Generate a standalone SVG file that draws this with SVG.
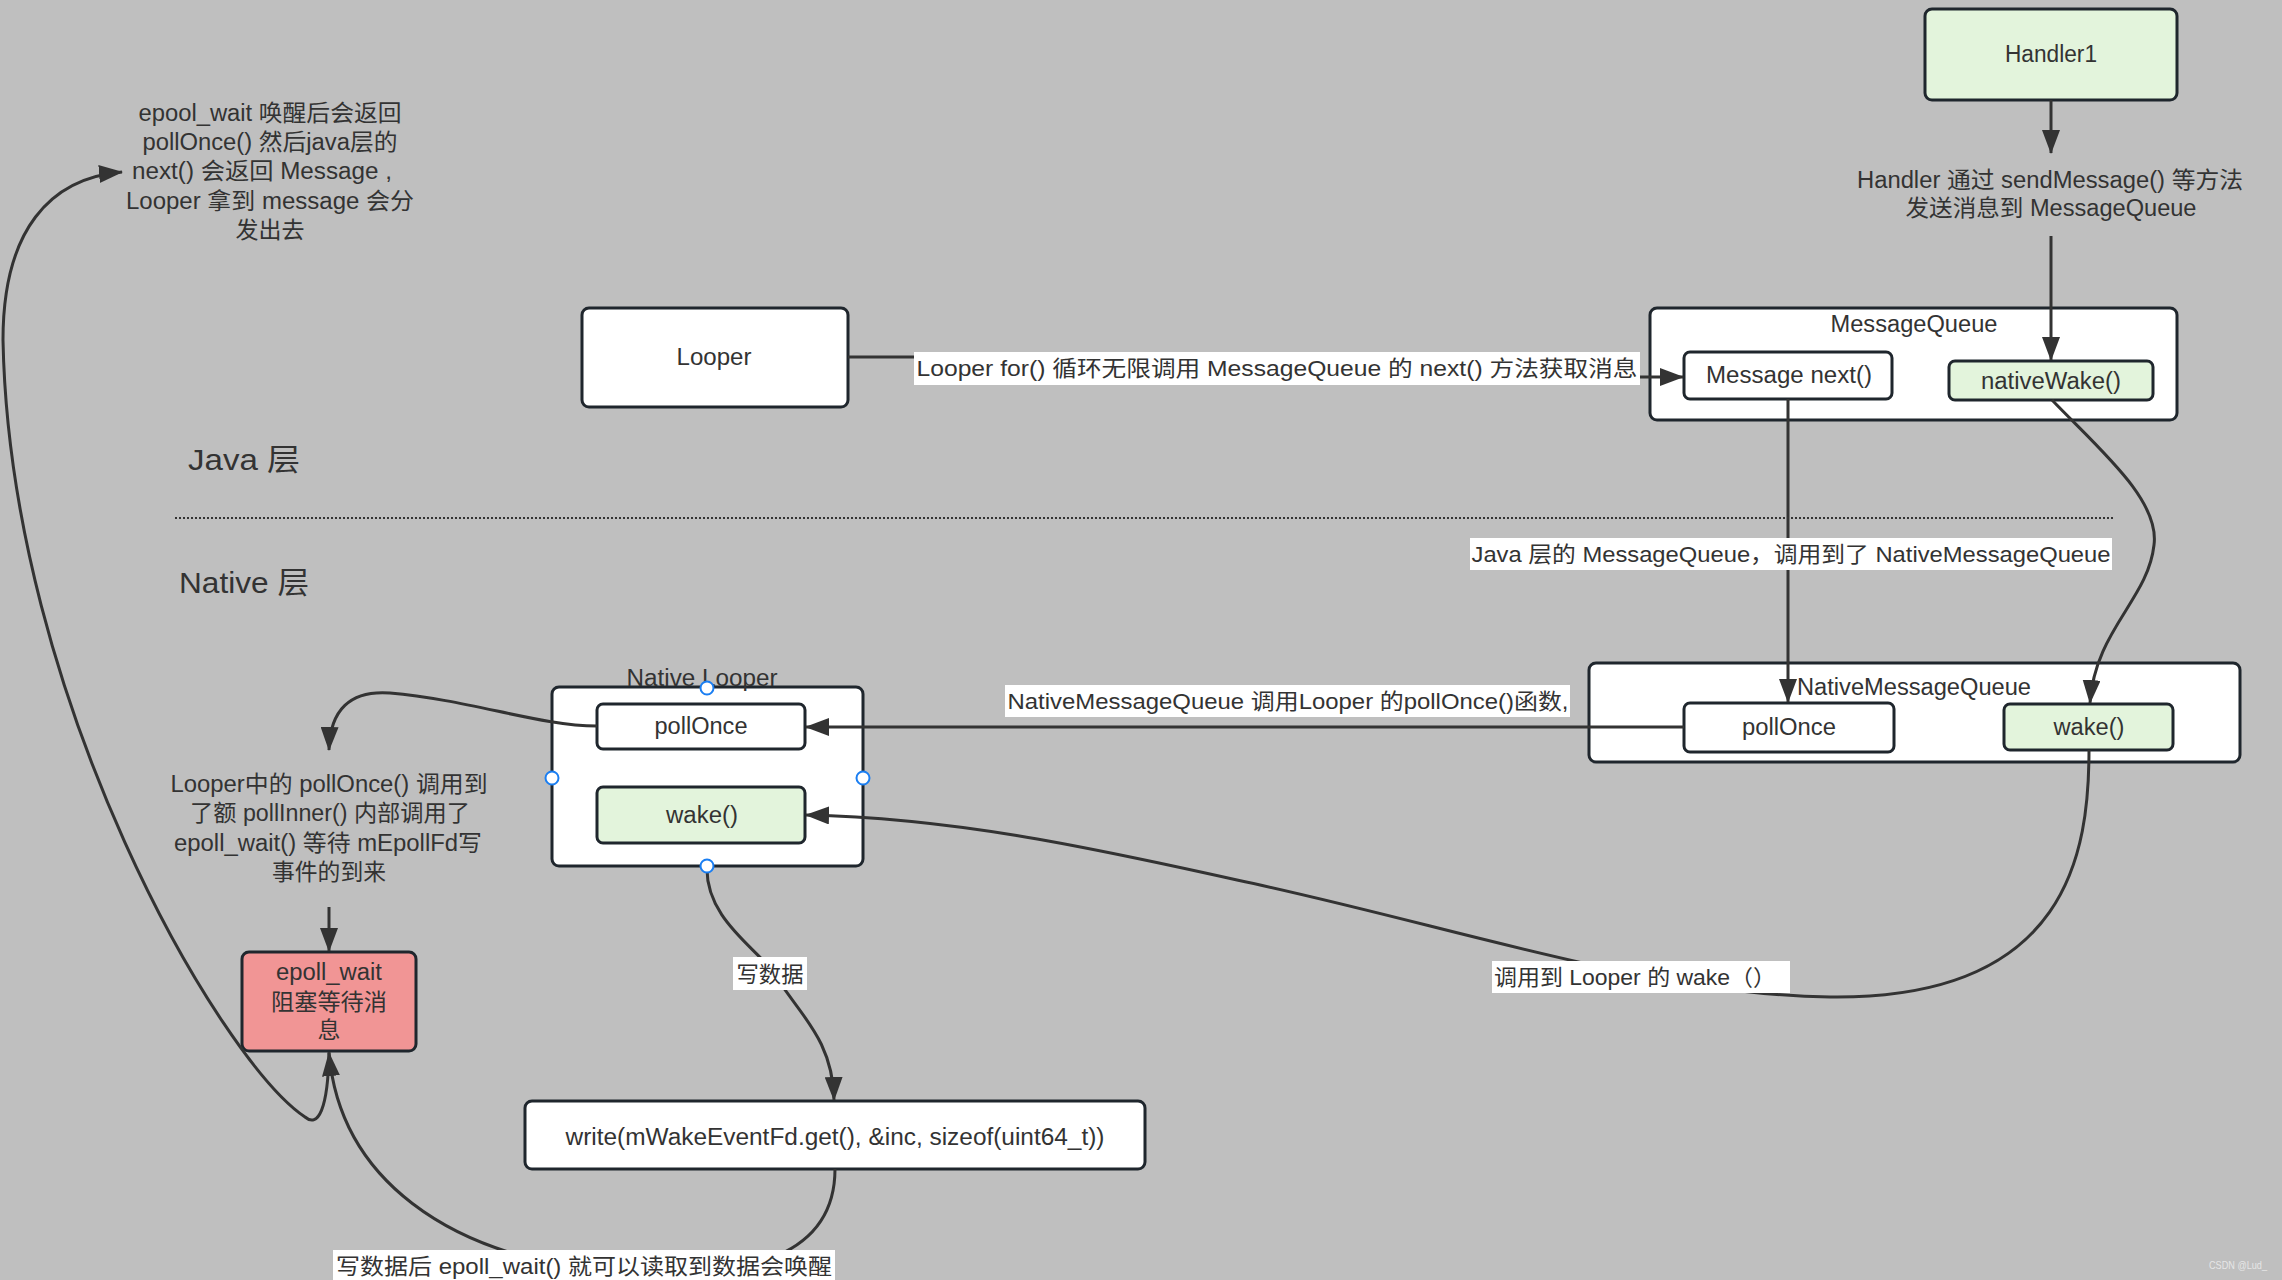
<svg xmlns="http://www.w3.org/2000/svg" width="2282" height="1280" viewBox="0 0 2282 1280">
<defs>
<marker id="arr" markerUnits="userSpaceOnUse" markerWidth="24" markerHeight="18" refX="23" refY="9" orient="auto">
<path d="M0,0 L24,9 L0,18 z" fill="#333"/>
</marker>
<style>
text{font-family:"Liberation Sans","Noto Sans CJK SC",sans-serif;fill:#333;}
.n{font-size:23px;text-anchor:middle;}
.l{font-size:22px;text-anchor:middle;}
.big{font-size:30px;}
.box{fill:#fff;stroke:#1f262d;stroke-width:3;}
.green{fill:#e3f4dc;}
.pink{fill:#f19595;}
.edge{fill:none;stroke:#333;stroke-width:3;}
.arrow{marker-end:url(#arr);}
.lbg{fill:#fff;}
.h{fill:#fff;stroke:#1a7ef2;stroke-width:2;}
</style>
</defs>
<rect x="0" y="0" width="2282" height="1280" fill="#bfbfbf"/>

<g id="layer-labels">
<text class="big" x="188" y="470" textLength="112" lengthAdjust="spacingAndGlyphs">Java 层</text>
<text class="big" x="179" y="593" textLength="130" lengthAdjust="spacingAndGlyphs">Native 层</text>
<line x1="175" y1="518" x2="2115" y2="518" stroke="#333" stroke-width="2" stroke-dasharray="2 2"/>
</g>

<g id="handler1">
<rect class="box green" x="1925" y="9" width="252" height="91" rx="7"/>
<text class="n" x="2051" y="62" textLength="92" lengthAdjust="spacingAndGlyphs">Handler1</text>
</g>

<g id="handler-note">
<text class="n" x="2050" y="188" textLength="386" lengthAdjust="spacingAndGlyphs">Handler 通过 sendMessage() 等方法</text>
<text class="n" x="2051" y="216" textLength="291" lengthAdjust="spacingAndGlyphs">发送消息到 MessageQueue</text>
</g>

<g id="looper">
<rect class="box" x="582" y="308" width="266" height="99" rx="7"/>
<text class="n" x="714" y="365" textLength="75" lengthAdjust="spacingAndGlyphs">Looper</text>
</g>

<g id="messagequeue">
<rect class="box" x="1650" y="308" width="527" height="112" rx="7"/>
<text class="n" x="1914" y="332" textLength="167" lengthAdjust="spacingAndGlyphs">MessageQueue</text>
</g>
<g id="message-next">
<rect class="box" x="1684" y="352" width="208" height="47" rx="6"/>
<text class="n" x="1789" y="383" textLength="166" lengthAdjust="spacingAndGlyphs">Message next()</text>
</g>
<g id="nativewake">
<rect class="box green" x="1949" y="361" width="204" height="39" rx="6"/>
<text class="n" x="2051" y="389" textLength="140" lengthAdjust="spacingAndGlyphs">nativeWake()</text>
</g>

<g id="nativemessagequeue">
<rect class="box" x="1589" y="663" width="651" height="99" rx="7"/>
<text class="n" x="1914" y="695" textLength="234" lengthAdjust="spacingAndGlyphs">NativeMessageQueue</text>
</g>
<g id="nmq-pollonce">
<rect class="box" x="1684" y="703" width="210" height="49" rx="6"/>
<text class="n" x="1789" y="735" textLength="94" lengthAdjust="spacingAndGlyphs">pollOnce</text>
</g>
<g id="nmq-wake">
<rect class="box green" x="2004" y="704" width="169" height="46" rx="6"/>
<text class="n" x="2089" y="735" textLength="71" lengthAdjust="spacingAndGlyphs">wake()</text>
</g>

<g id="native-looper">
<rect class="box" x="552" y="687" width="311" height="179" rx="7"/>
<text class="n" x="702" y="686" textLength="151" lengthAdjust="spacingAndGlyphs">Native Looper</text>
</g>
<g id="nl-pollonce">
<rect class="box" x="597" y="704" width="208" height="45" rx="6"/>
<text class="n" x="701" y="734" textLength="93" lengthAdjust="spacingAndGlyphs">pollOnce</text>
</g>
<g id="nl-wake">
<rect class="box green" x="597" y="787" width="208" height="56" rx="6"/>
<text class="n" x="702" y="823" textLength="72" lengthAdjust="spacingAndGlyphs">wake()</text>
</g>

<g id="pollonce-note">
<text class="n" x="329" y="792" textLength="317" lengthAdjust="spacingAndGlyphs">Looper中的 pollOnce() 调用到</text>
<text class="n" x="330" y="821" textLength="280" lengthAdjust="spacingAndGlyphs">了额 pollInner() 内部调用了</text>
<text class="n" x="328" y="851" textLength="308" lengthAdjust="spacingAndGlyphs">epoll_wait() 等待 mEpollFd写</text>
<text class="n" x="329" y="880" textLength="114" lengthAdjust="spacingAndGlyphs">事件的到来</text>
</g>

<g id="epoll-wait">
<rect class="box pink" x="242" y="952" width="174" height="99" rx="7"/>
<text class="n" x="329" y="980" textLength="106" lengthAdjust="spacingAndGlyphs">epoll_wait</text>
<text class="n" x="329" y="1010" textLength="116" lengthAdjust="spacingAndGlyphs">阻塞等待消</text>
<text class="n" x="329" y="1038">息</text>
</g>

<g id="write">
<rect class="box" x="525" y="1101" width="620" height="68" rx="7"/>
<text class="n" x="835" y="1145" textLength="539" lengthAdjust="spacingAndGlyphs">write(mWakeEventFd.get(), &amp;inc, sizeof(uint64_t))</text>
</g>

<g id="return-note">
<text class="n" x="270" y="121" textLength="263" lengthAdjust="spacingAndGlyphs">epool_wait 唤醒后会返回</text>
<text class="n" x="270" y="150" textLength="255" lengthAdjust="spacingAndGlyphs">pollOnce() 然后java层的</text>
<text class="n" x="262" y="179" textLength="260" lengthAdjust="spacingAndGlyphs">next() 会返回 Message ,</text>
<text class="n" x="270" y="209" textLength="288" lengthAdjust="spacingAndGlyphs">Looper 拿到 message 会分</text>
<text class="n" x="270" y="238" textLength="69" lengthAdjust="spacingAndGlyphs">发出去</text>
</g>

<g id="connectors">
<path class="edge arrow" d="M2051,100 L2051,153"/>
<path class="edge arrow" d="M2051,236 L2051,360"/>
<path class="edge arrow" d="M848,357 H1270 V377 H1683"/>
<path class="edge arrow" d="M1788,399 V702"/>
<path class="edge arrow" d="M2052,400 C2100,450 2160,500 2154,545 C2148,600 2095,630 2090,703"/>
<path class="edge arrow" d="M1684,727 H806"/>
<path class="edge arrow" d="M2089,750 C2089,850 2070,1000 1830,997 C1650,995 1450,925 1237,880 C1080,845 950,818 806,815"/>
<path class="edge arrow" d="M597,726 C540,726 470,700 390,693 C350,690 330,710 329,750"/>
<path class="edge arrow" d="M329,907 V951"/>
<path class="edge arrow" d="M707,866 C705,920 760,950 775,975 C800,1015 833,1040 834,1100"/>
<path class="edge arrow" d="M835,1169 C835,1250 760,1285 600,1270 C450,1255 340,1180 329,1053"/>
<path class="edge arrow" d="M329,1052 C328,1110 318,1128 305,1117 C220,1060 10,700 3,340 C3,230 50,178 122,172"/>
<rect class="lbg" x="914" y="352" width="726" height="33"/>
<text class="l" x="1277" y="376" textLength="721" lengthAdjust="spacingAndGlyphs">Looper for() 循环无限调用 MessageQueue 的 next() 方法获取消息</text>
<rect class="lbg" x="1470" y="538" width="642" height="32"/>
<text class="l" x="1791" y="562" textLength="639" lengthAdjust="spacingAndGlyphs">Java 层的 MessageQueue，调用到了 NativeMessageQueue</text>
<rect class="lbg" x="1005" y="685" width="565" height="32"/>
<text class="l" x="1288" y="709" textLength="561" lengthAdjust="spacingAndGlyphs">NativeMessageQueue 调用Looper 的pollOnce()函数,</text>
<rect class="lbg" x="1492" y="961" width="298" height="32"/>
<text class="l" x="1635" y="985" textLength="282" lengthAdjust="spacingAndGlyphs">调用到 Looper 的 wake（）</text>
<rect class="lbg" x="733" y="957" width="74" height="33"/>
<text class="l" x="770" y="982" textLength="67" lengthAdjust="spacingAndGlyphs">写数据</text>
<rect class="lbg" x="333" y="1250" width="502" height="30"/>
<text class="l" x="584" y="1274" textLength="496" lengthAdjust="spacingAndGlyphs">写数据后 epoll_wait()  就可以读取到数据会唤醒</text>
</g>

<g id="selection-handles">
<circle class="h" cx="707" cy="688" r="6.5"/>
<circle class="h" cx="552" cy="778" r="6.5"/>
<circle class="h" cx="863" cy="778" r="6.5"/>
<circle class="h" cx="707" cy="866" r="6.5"/>
</g>

<text x="2209" y="1269" font-size="11" style="fill:#e6e6e6" textLength="58" lengthAdjust="spacingAndGlyphs">CSDN @Lud_</text>
</svg>
